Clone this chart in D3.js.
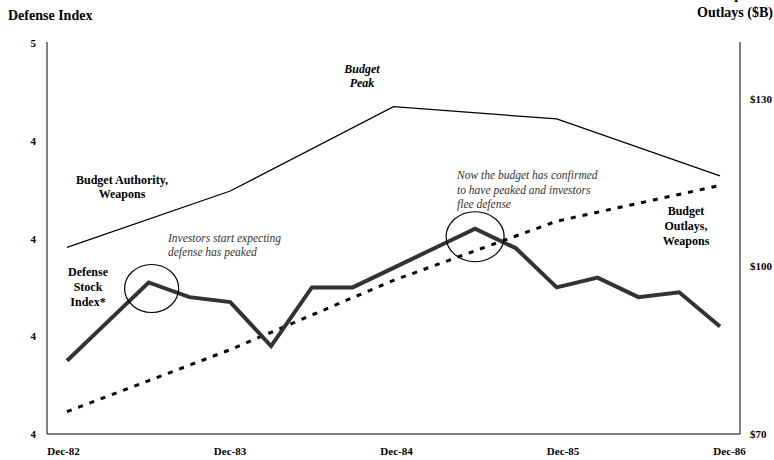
<!DOCTYPE html>
<html>
<head>
<meta charset="utf-8">
<script src="https://cdn.jsdelivr.net/npm/d3@7"></script>
<style>
  body { margin: 0; background: #fff; }
  svg { font-family: "Liberation Serif", "Times New Roman", serif; }
</style>
</head>
<body>
<svg width="774" height="460"></svg>
<script>
// quarterly dates, Dec-82 .. Dec-86
const quarters = ["Dec-82","Mar-83","Jun-83","Sep-83","Dec-83","Mar-84","Jun-84","Sep-84",
  "Dec-84","Mar-85","Jun-85","Sep-85","Dec-85","Mar-86","Jun-86","Sep-86","Dec-86"];
const years = ["Dec-82","Dec-83","Dec-84","Dec-85","Dec-86"];

// defense stock index (left axis)
const stockIndex = [3.95, 4.03, 4.11, 4.08, 4.07, 3.98, 4.10, 4.10, 4.14,
  4.18, 4.22, 4.18, 4.10, 4.12, 4.08, 4.09, 4.02];
// weapons budget, $B (right axis)
const budgetAuthority = [103.4, 113.5, 128.6, 126.4, 116.2];
const budgetOutlays = [74.0, 85.1, 97.5, 108.1, 114.5];

const leftTicks = [3.8, 4.0, 4.2, 4.4, 4.6];
const rightTicks = [70, 100, 130];

const svg = d3.select("svg");
const plotLeft = 47, plotRight = 740, plotTop = 43, plotBottom = 434;

const x = d3.scalePoint().domain(quarters).range([67, 720]);
const xLab = d3.scalePoint().domain(years).range([63, 729]);
const yL = d3.scaleLinear().domain([3.8, 4.6]).range([plotBottom, plotTop]);
const yR = d3.scaleLinear().domain([70, 140]).range([plotBottom, plotTop]);

// frame lines
svg.append("path")
    .attr("d", `M${plotLeft},${plotTop - 1}V${plotBottom}H${plotRight}V${plotTop - 1}`)
    .attr("fill", "none").attr("stroke", "#000").attr("stroke-width", 1);

const axisFont = g => g.call(g => g.select(".domain").remove())
    .selectAll("text").attr("font-size", 11).attr("font-weight", "bold")
    .attr("font-family", "Liberation Serif, serif").attr("fill", "#000");

svg.append("g").attr("transform", `translate(${plotLeft},0)`)
    .call(d3.axisLeft(yL).tickValues(leftTicks).tickSize(0).tickPadding(11).tickFormat(d3.format(".0f")))
    .call(axisFont);

svg.append("g").attr("transform", `translate(${plotRight},0)`)
    .call(d3.axisRight(yR).tickValues(rightTicks).tickSize(0).tickPadding(10).tickFormat(d => "$" + d))
    .call(axisFont);

svg.append("g").attr("transform", `translate(0,${plotBottom})`)
    .call(d3.axisBottom(xLab).tickSize(0).tickPadding(13))
    .call(axisFont);

// axis titles (the top line of the right title runs off the page, as in the original)
svg.append("text").attr("x", 8).attr("y", 20)
    .attr("font-size", 14).attr("font-weight", "bold").text("Defense Index");
svg.append("text").attr("x", 735).attr("y", -1).attr("text-anchor", "middle")
    .attr("font-size", 14).attr("font-weight", "bold").text("Weapons");
svg.append("text").attr("x", 735).attr("y", 17).attr("text-anchor", "middle")
    .attr("font-size", 14).attr("font-weight", "bold").text("Outlays ($B)");

// lines
const lineR = d3.line().x((d, i) => x(years[i])).y(d => yR(d));
const lineL = d3.line().x((d, i) => x(quarters[i])).y(d => yL(d));

svg.append("path").datum(budgetAuthority).attr("d", lineR)
    .attr("fill", "none").attr("stroke", "#000").attr("stroke-width", 1.3);
svg.append("path").datum(budgetOutlays).attr("d", lineR)
    .attr("fill", "none").attr("stroke", "#000").attr("stroke-width", 3)
    .attr("stroke-dasharray", "5,7");
svg.append("path").datum(stockIndex).attr("d", lineL)
    .attr("fill", "none").attr("stroke", "#333").attr("stroke-width", 4)
    .attr("stroke-linejoin", "miter");

// circled turning points
[[2, 3, 6, 27, 24], [10, 0, 8, 29, 25]].forEach(([i, dx, dy, rx, ry]) => {
  svg.append("ellipse")
      .attr("cx", x(quarters[i]) + dx).attr("cy", yL(stockIndex[i]) + dy)
      .attr("rx", rx).attr("ry", ry)
      .attr("fill", "none").attr("stroke", "#000").attr("stroke-width", 1.2);
});

// labels
function label(lines, px, py, opts) {
  const t = svg.append("text")
      .attr("font-size", opts.size || 12)
      .attr("font-weight", opts.bold ? "bold" : "normal")
      .attr("font-style", opts.italic ? "italic" : "normal")
      .attr("text-anchor", opts.anchor || "middle")
      .attr("fill", opts.color || "#000");
  lines.forEach((s, k) => t.append("tspan").attr("x", px).attr("y", py + k * (opts.lh || 14)).text(s));
}

label(["Budget", "Peak"], 362, 73, { bold: true, italic: true, lh: 14 });
label(["Budget Authority,", "Weapons"], 122, 184, { bold: true, lh: 14 });
label(["Defense", "Stock", "Index*"], 88, 276, { bold: true, lh: 15 });
label(["Budget", "Outlays,", "Weapons"], 686, 215, { bold: true, lh: 15 });
label(["Investors start expecting", "defense has peaked"], 168, 242,
  { italic: true, anchor: "start", size: 11.5, lh: 14, color: "#333" });
label(["Now the budget has confirmed", "to have peaked and investors", "flee defense"], 457, 179,
  { italic: true, anchor: "start", size: 11.5, lh: 14.5, color: "#333" });
</script>
</body>
</html>
